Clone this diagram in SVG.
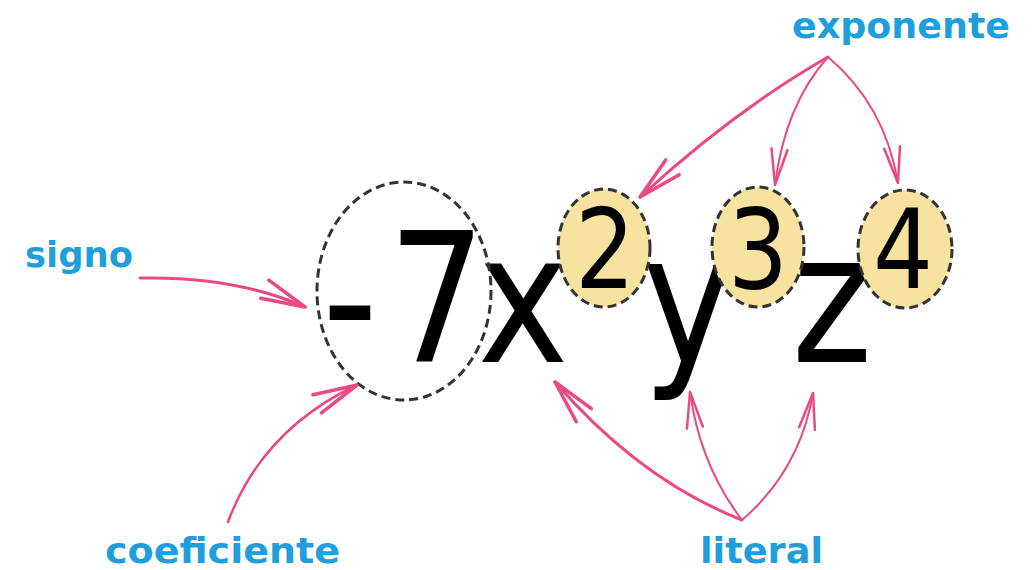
<svg xmlns="http://www.w3.org/2000/svg" width="1033" height="570" viewBox="0 0 1033 570">
<style>
.big{font-family:"DejaVu Sans",Verdana,sans-serif;font-size:181px;fill:#000;text-anchor:middle}
.sup{font-family:"DejaVu Sans",Verdana,sans-serif;font-size:111px;fill:#000;text-anchor:middle}
.lbl{font-family:"DejaVu Sans","Comic Sans MS",sans-serif;font-weight:bold;font-size:36px;fill:#1f9ede}
.ring{fill:none;stroke:#333;stroke-width:3;stroke-dasharray:9 5}
.exp{fill:#f7e2a0;stroke:#333;stroke-width:3;stroke-dasharray:9 5}
.arr{fill:none;stroke:#ea4a84;stroke-linecap:round}
</style>
<defs>
<marker id="hL" viewBox="0 0 48 24" refX="46" refY="12" markerWidth="48" markerHeight="24" markerUnits="userSpaceOnUse" orient="auto">
<path d="M2,2 L46,12 L2,22" fill="none" stroke="#ea4a84" stroke-width="3.5" stroke-linecap="round" stroke-linejoin="round"/>
</marker>
<marker id="hS" viewBox="0 0 40 20" refX="38" refY="10" markerWidth="40" markerHeight="20" markerUnits="userSpaceOnUse" orient="auto">
<path d="M2,2 L38,10 L2,18" fill="none" stroke="#ea4a84" stroke-width="2.5" stroke-linecap="round" stroke-linejoin="round"/>
</marker>
</defs>
<rect width="1033" height="570" fill="#fff"/>
<g id="term">
<text class="big" transform="translate(350,362) scale(0.85,1)">-</text>
<text class="big" transform="translate(437,362) scale(0.85,1)">7</text>
<text class="big" transform="translate(523,362) scale(0.85,1)">x</text>
<text class="big" transform="translate(688,362) scale(0.85,1)">y</text>
<text class="big" transform="translate(832,362) scale(0.85,1)">z</text>
</g>
<g id="coef-ring">
<ellipse class="ring" cx="404" cy="291" rx="87" ry="109"/>
</g>
<g id="exp2">
<ellipse class="exp" cx="604" cy="248" rx="46" ry="59"/>
<text class="sup" transform="translate(605,288) scale(0.85,1)">2</text>
</g>
<g id="exp3">
<ellipse class="exp" cx="758" cy="247" rx="46" ry="60"/>
<text class="sup" transform="translate(758,288) scale(0.85,1)">3</text>
</g>
<g id="exp4">
<ellipse class="exp" cx="905" cy="249" rx="47" ry="59"/>
<text class="sup" transform="translate(903,288) scale(0.85,1)">4</text>
</g>
<g id="label-signo"><text class="lbl" x="25" y="267" textLength="108" lengthAdjust="spacingAndGlyphs">signo</text></g>
<g id="label-coeficiente"><text class="lbl" x="105" y="563" textLength="235" lengthAdjust="spacingAndGlyphs">coeficiente</text></g>
<g id="label-exponente"><text class="lbl" x="792" y="38" textLength="218" lengthAdjust="spacingAndGlyphs">exponente</text></g>
<g id="label-literal"><text class="lbl" x="700" y="563" textLength="123" lengthAdjust="spacingAndGlyphs">literal</text></g>
<g id="connectors">
<path class="arr" d="M140,278 Q235,276 305,307" stroke-width="3" marker-end="url(#hL)"/>
<path class="arr" d="M228,522 Q262,430 357,385" stroke-width="2.5" marker-end="url(#hL)"/>
<path class="arr" d="M828,57 Q735,110 640,197" stroke-width="3" marker-end="url(#hL)"/>
<path class="arr" d="M828,57 Q785,105 775,185" stroke-width="2" marker-end="url(#hS)"/>
<path class="arr" d="M828,57 Q885,105 898,183" stroke-width="2" marker-end="url(#hS)"/>
<path class="arr" d="M742,520 Q640,480 555,382" stroke-width="3" marker-end="url(#hL)"/>
<path class="arr" d="M742,520 Q700,465 690,392" stroke-width="2" marker-end="url(#hS)"/>
<path class="arr" d="M742,520 Q800,470 813,393" stroke-width="2" marker-end="url(#hS)"/>
</g>
</svg>
